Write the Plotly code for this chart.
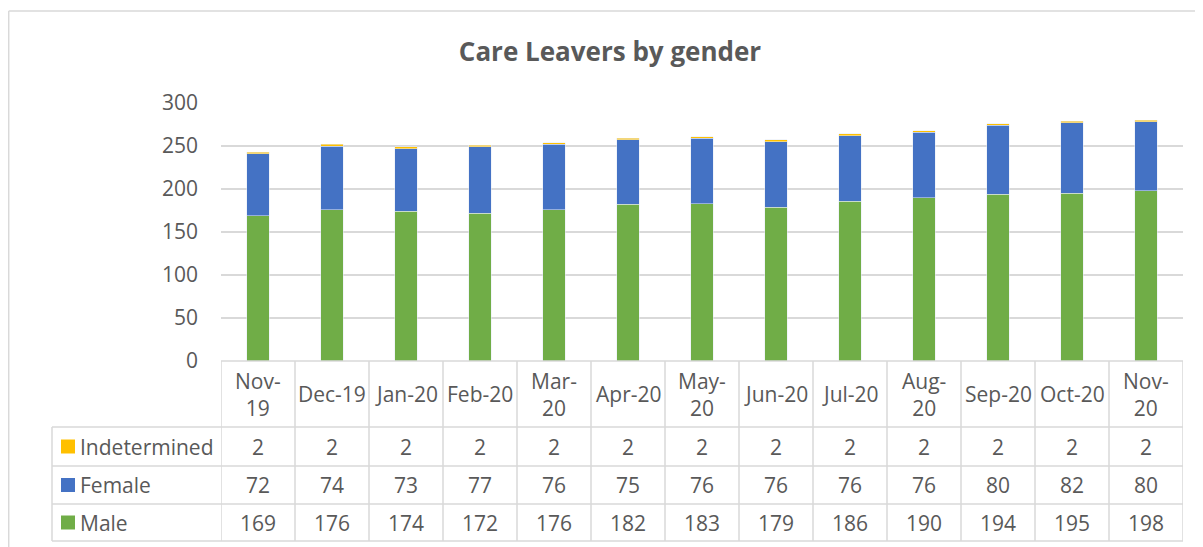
import plotly.graph_objects as go

months = ["Nov-19", "Dec-19", "Jan-20", "Feb-20", "Mar-20", "Apr-20", "May-20",
          "Jun-20", "Jul-20", "Aug-20", "Sep-20", "Oct-20", "Nov-20"]
header_labels = ["Nov-<br>19", "Dec-19", "Jan-20", "Feb-20", "Mar-<br>20", "Apr-20", "May-<br>20",
                 "Jun-20", "Jul-20", "Aug-<br>20", "Sep-20", "Oct-20", "Nov-<br>20"]
indetermined = [2, 2, 2, 2, 2, 2, 2, 2, 2, 2, 2, 2, 2]
female = [72, 74, 73, 77, 76, 75, 76, 76, 76, 76, 80, 82, 80]
male = [169, 176, 174, 172, 176, 182, 183, 179, 186, 190, 194, 195, 198]

# page coordinates of the reference; the page body adds an 8px margin
OFF = 8
W, H = 1203 - OFF, 547 - OFF
PL, PR, PT, PB = 221, 1183, 103, 361
GRID = "#d9d9d9"
TEXT = "#595959"
FONT = "Open Sans"
FS = 21


def px(x):
    return (x - PL) / (PR - PL)


def py(y):
    return (PB - y) / (PB - PT)


fig = go.Figure()
fig.add_trace(go.Bar(x=months, y=male, name="Male", marker_color="#70ad47"))
fig.add_trace(go.Bar(x=months, y=female, name="Female", marker_color="#4472c4"))
fig.add_trace(go.Bar(x=months, y=indetermined, name="Indetermined", marker_color="#ffc000"))

shapes = []
annotations = []

# outer chart frame
shapes.append(dict(type="line", xref="paper", yref="paper", x0=px(8.7), x1=px(1215),
                   y0=py(11), y1=py(11), line=dict(color=GRID, width=1.5)))
shapes.append(dict(type="line", xref="paper", yref="paper", x0=px(8.7), x1=px(8.7),
                   y0=py(11), y1=py(560), line=dict(color=GRID, width=1.5)))

# data table grid
row_lines = [361, 427, 466, 504, 541]
for i, ry in enumerate(row_lines):
    if i == 0:
        shapes.append(dict(type="line", xref="x", yref="paper", x0=-0.5, x1=len(months) - 0.5,
                           y0=py(ry), y1=py(ry), line=dict(color=GRID, width=1.5)))
    else:
        shapes.append(dict(type="line", xref="paper", yref="paper", x0=px(52), x1=1,
                           y0=py(ry), y1=py(ry), line=dict(color=GRID, width=1.5)))
for i in range(len(months) + 1):
    shapes.append(dict(type="line", xref="x", yref="paper", x0=i - 0.5, x1=i - 0.5,
                       y0=py(361), y1=py(541), line=dict(color=GRID, width=1.5)))
shapes.append(dict(type="line", xref="paper", yref="paper", x0=px(52), x1=px(52),
                   y0=py(427), y1=py(541), line=dict(color=GRID, width=1.5)))

# header row
for i, lab in enumerate(header_labels):
    annotations.append(dict(x=i, y=py(394), xref="x", yref="paper", text=lab,
                            xanchor="center", yanchor="middle", showarrow=False,
                            font=dict(family=FONT, size=FS, color=TEXT)))

rows = [("Indetermined", indetermined, "#ffc000"),
        ("Female", female, "#4472c4"),
        ("Male", male, "#70ad47")]
for r, (name, vals, col) in enumerate(rows):
    top, bot = row_lines[r + 1], row_lines[r + 2]
    cy = (top + bot) / 2
    shapes.append(dict(type="rect", xref="paper", yref="paper", x0=px(61), x1=px(75),
                       y0=py(cy - 7), y1=py(cy + 7), fillcolor=col, line=dict(width=0)))
    annotations.append(dict(x=px(78), y=py(cy), xref="paper", yref="paper", text=name,
                            xanchor="left", yanchor="middle", showarrow=False,
                            font=dict(family=FONT, size=FS, color=TEXT)))
    for i, v in enumerate(vals):
        annotations.append(dict(x=i, y=py(cy), xref="x", yref="paper", text=str(v),
                                xanchor="center", yanchor="middle", showarrow=False,
                                font=dict(family=FONT, size=FS, color=TEXT)))

fig.update_layout(
    width=W, height=H,
    margin=dict(l=PL - OFF, r=W - (PR - OFF), t=PT - OFF, b=H - (PB - OFF)),
    barmode="stack",
    bargap=0.69,
    plot_bgcolor="white",
    paper_bgcolor="white",
    showlegend=False,
    title=dict(text="<b>Care Leavers by gender</b>", x=(610 - OFF) / W, xanchor="center",
               y=1 - (52 - OFF) / H, yanchor="middle", yref="container",
               font=dict(family=FONT, size=26, color=TEXT)),
    shapes=shapes,
    annotations=annotations,
    font=dict(family=FONT, color=TEXT),
)
fig.update_xaxes(type="category", range=[-0.5, len(months) - 0.5], showticklabels=False,
                 showgrid=False, showline=False, ticks="")
fig.update_yaxes(range=[0, 300], dtick=50, showgrid=True, gridcolor=GRID, gridwidth=1.5,
                 zeroline=False, showline=False, ticklabelstandoff=22,
                 tickfont=dict(family=FONT, size=FS, color=TEXT))

fig.write_html("out.html")
